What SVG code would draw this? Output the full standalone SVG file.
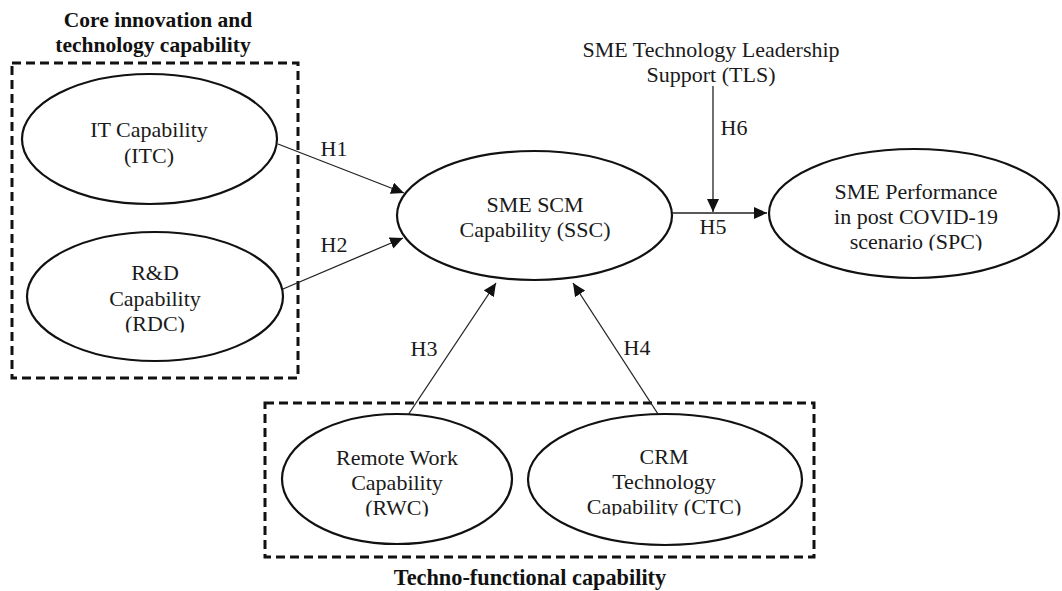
<svg xmlns="http://www.w3.org/2000/svg" width="1062" height="591" viewBox="0 0 1062 591">
  <style>
    .bg { fill: #ffffff; }
    .node { fill: #ffffff; stroke: #111111; stroke-width: 2.2; }
    .group-box { fill: none; stroke: #111111; stroke-width: 3; stroke-dasharray: 9 5; }
    .label { font-family: "Liberation Serif", "Times New Roman", serif; font-size: 22px; fill: #1a1a1a; text-anchor: middle; }
    .title { font-family: "Liberation Serif", "Times New Roman", serif; font-size: 21.5px; font-weight: bold; fill: #111111; text-anchor: middle; }
    .edge { fill: none; stroke: #222222; stroke-width: 1.3; marker-end: url(#arrow); }
  </style>
  <defs>
    <marker id="arrow" markerUnits="userSpaceOnUse" markerWidth="13" markerHeight="12" refX="13" refY="6" orient="auto">
      <path d="M0,0 L13,6 L0,12 z" fill="#111111"/>
    </marker>
    <!-- text frames that cut off the last line of some labels -->
    <clipPath id="clip-rdc" clipPathUnits="userSpaceOnUse"><rect x="0" y="0" width="1062" height="332.5"/></clipPath>
    <clipPath id="clip-spc" clipPathUnits="userSpaceOnUse"><rect x="0" y="0" width="1062" height="250.5"/></clipPath>
    <clipPath id="clip-rwc" clipPathUnits="userSpaceOnUse"><rect x="0" y="0" width="1062" height="516.5"/></clipPath>
    <clipPath id="clip-ctc" clipPathUnits="userSpaceOnUse"><rect x="0" y="0" width="1062" height="515.5"/></clipPath>
  </defs>

  <rect class="bg" x="0" y="0" width="1062" height="591"/>

  <!-- grouping boxes and their titles -->
  <g id="group-core">
    <rect class="group-box" x="12" y="63" width="286" height="315"/>
    <text class="title" x="158" y="27">Core innovation and</text>
    <text class="title" x="153" y="52">technology capability</text>
  </g>
  <g id="group-techno">
    <rect class="group-box" x="265" y="403" width="549" height="154"/>
    <text class="title" x="530" y="585" style="font-size:22.3px">Techno-functional capability</text>
  </g>

  <!-- constructs -->
  <g id="node-itc">
    <ellipse class="node" cx="149.5" cy="139" rx="127.5" ry="65"/>
    <text class="label" x="149" y="137">IT Capability</text>
    <text class="label" x="149" y="163">(ITC)</text>
  </g>
  <g id="node-rdc">
    <ellipse class="node" cx="155" cy="296.5" rx="128" ry="64.5"/>
    <g clip-path="url(#clip-rdc)">
      <text class="label" x="155" y="280">R&amp;D</text>
      <text class="label" x="155" y="306">Capability</text>
      <text class="label" x="155" y="331">(RDC)</text>
    </g>
  </g>
  <g id="node-ssc">
    <ellipse class="node" cx="534.5" cy="215.5" rx="137.5" ry="64.5"/>
    <text class="label" x="535" y="212">SME SCM</text>
    <text class="label" x="535" y="237">Capability (SSC)</text>
  </g>
  <g id="node-spc">
    <ellipse class="node" cx="914" cy="213.5" rx="145" ry="64.5"/>
    <g clip-path="url(#clip-spc)">
      <text class="label" x="916" y="199">SME Performance</text>
      <text class="label" x="916" y="224">in post COVID-19</text>
      <text class="label" x="916" y="249">scenario (SPC)</text>
    </g>
  </g>
  <g id="node-tls">
    <text class="label" x="711" y="57">SME Technology Leadership</text>
    <text class="label" x="711" y="82">Support (TLS)</text>
  </g>
  <g id="node-rwc">
    <ellipse class="node" cx="397" cy="479" rx="115" ry="65"/>
    <g clip-path="url(#clip-rwc)">
      <text class="label" x="397" y="465">Remote Work</text>
      <text class="label" x="397" y="490">Capability</text>
      <text class="label" x="397" y="515">(RWC)</text>
    </g>
  </g>
  <g id="node-ctc">
    <ellipse class="node" cx="665" cy="479.5" rx="137" ry="65.5"/>
    <g clip-path="url(#clip-ctc)">
      <text class="label" x="664" y="464">CRM</text>
      <text class="label" x="664" y="489">Technology</text>
      <text class="label" x="664" y="514">Capability (CTC)</text>
    </g>
  </g>

  <!-- hypothesised paths -->
  <g id="connectors">
    <line class="edge" x1="278" y1="144" x2="404" y2="193"/>
    <line class="edge" x1="283" y1="289" x2="403" y2="238"/>
    <line class="edge" x1="408" y1="415" x2="496" y2="283"/>
    <line class="edge" x1="658" y1="414" x2="573" y2="283"/>
    <line class="edge" x1="672" y1="213" x2="767" y2="213"/>
    <line class="edge" x1="713" y1="86" x2="713" y2="212"/>
    <text class="label" x="334" y="156">H1</text>
    <text class="label" x="334" y="252">H2</text>
    <text class="label" x="424" y="356">H3</text>
    <text class="label" x="637" y="355">H4</text>
    <text class="label" x="713" y="234">H5</text>
    <text class="label" x="734" y="135">H6</text>
  </g>
</svg>
